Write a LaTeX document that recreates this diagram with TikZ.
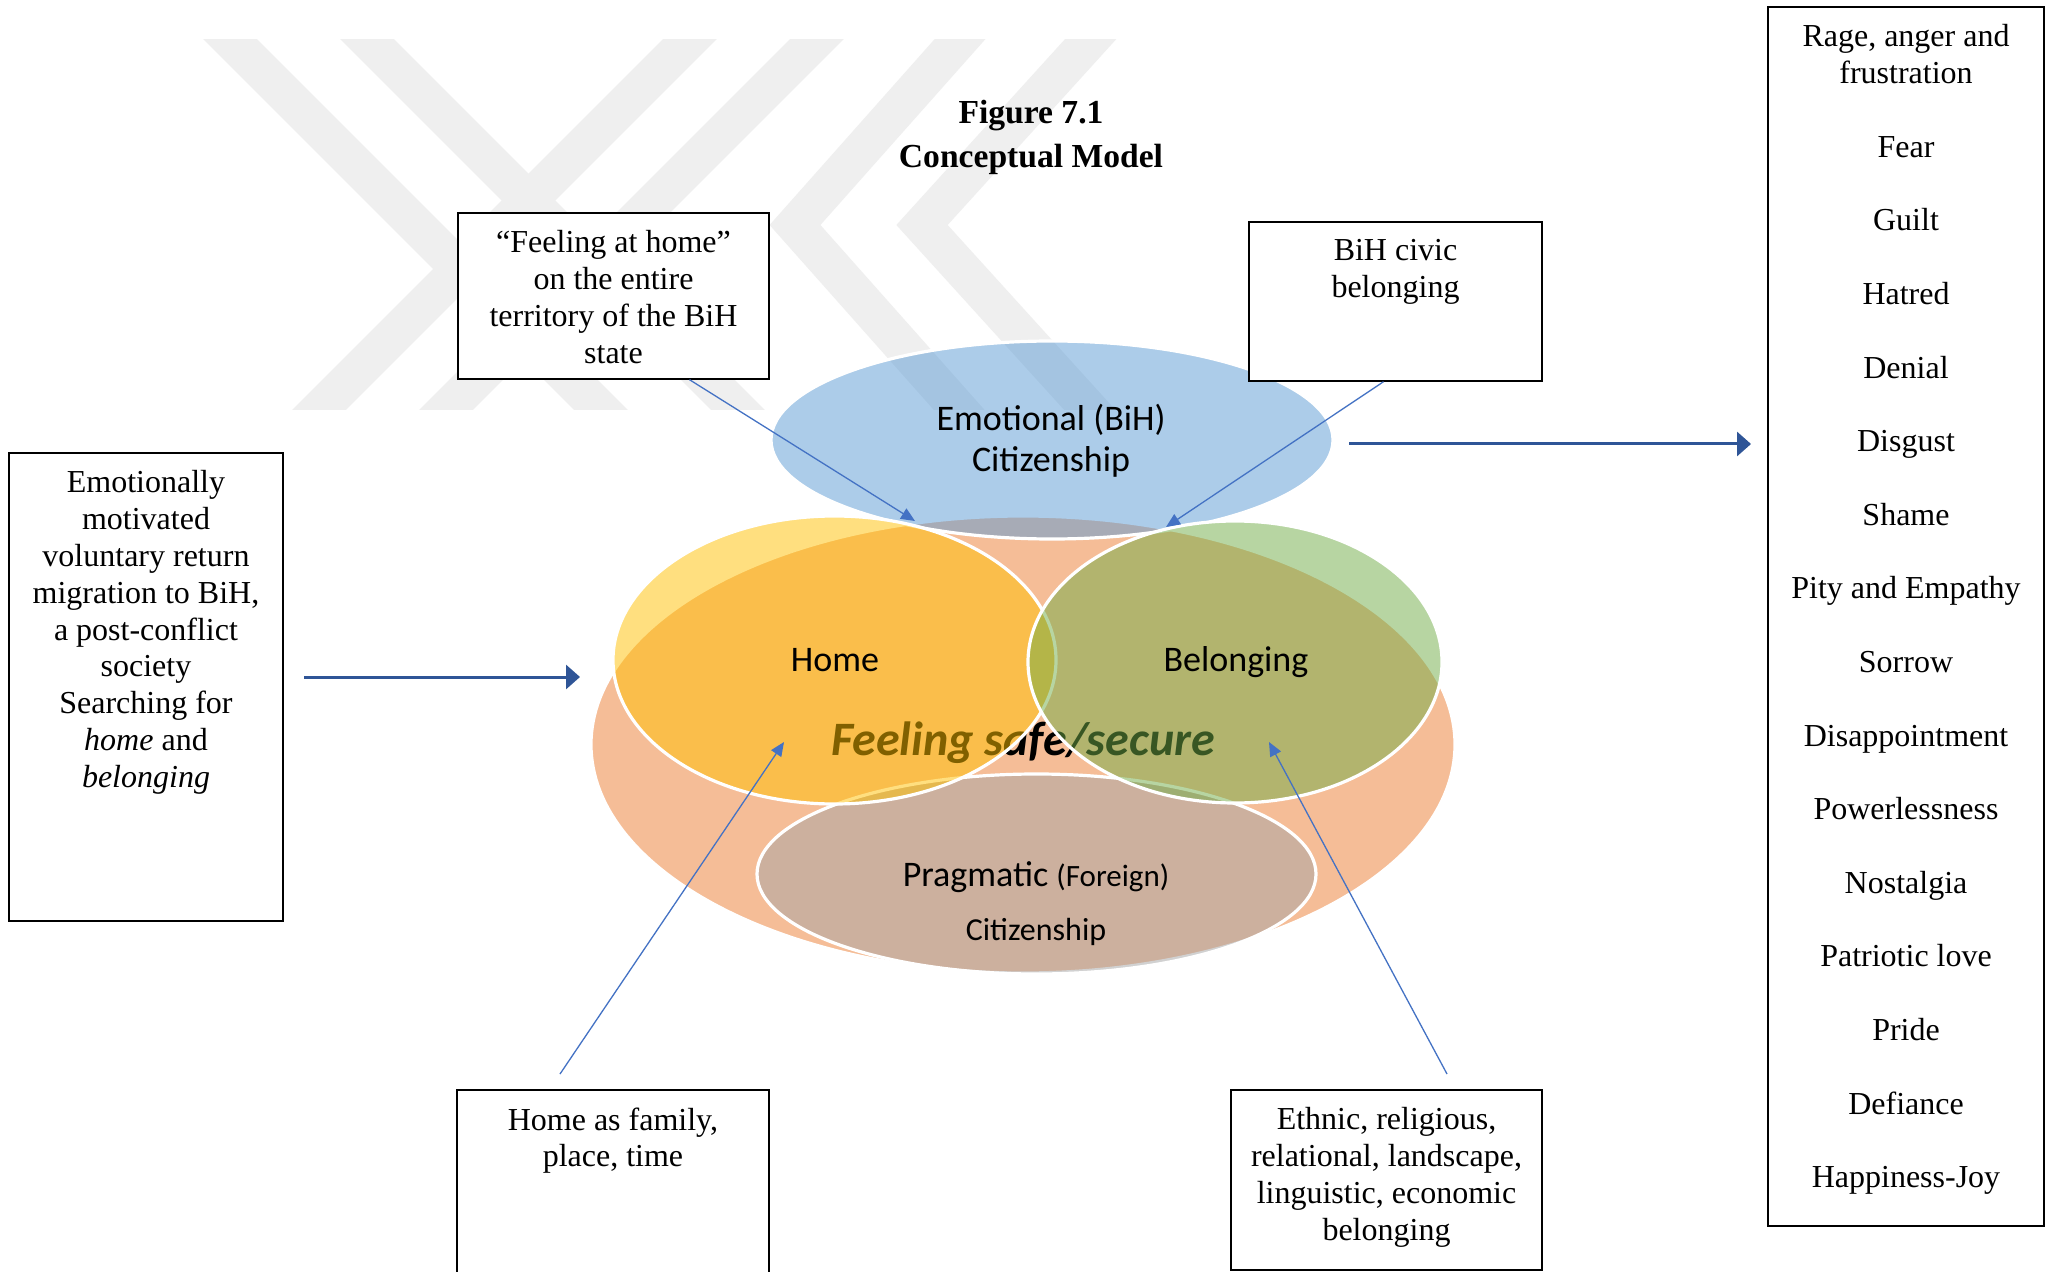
\documentclass[tikz,border=0pt]{standalone}
\usepackage{fontspec}
\setmainfont{Liberation Serif}
\newfontfamily\calibri{Carlito}
\usepackage{xcolor}
\definecolor{ColSalmon}{HTML}{ED7D31}
\definecolor{ColBlue}{HTML}{5B9BD5}
\definecolor{ColHome}{HTML}{FFC000}
\definecolor{ColBelong}{HTML}{70AD47}
\definecolor{ColPrag}{HTML}{A5A5A5}
\definecolor{ColArrow}{HTML}{4472C4}
\definecolor{ColThick}{HTML}{2F5597}
\definecolor{ColMark}{HTML}{EFEFEF}
\usepackage{tikz}
\usetikzlibrary{arrows.meta}
\tikzstyle{Venn}=[draw=white,line width=1.6pt,fill opacity=0.5]
\tikzstyle{Box}=[draw=black,line width=0.7pt,fill=white,inner sep=0pt]
\tikzstyle{Edge}=[draw=ColArrow,line width=0.65pt,
-{Triangle[length=7pt,width=6pt]}]
\tikzstyle{BigEdge}=[draw=ColThick,line width=1.5pt,
-{Triangle[length=7pt,width=12pt]}]
\tikzstyle{Mark}=[draw=ColMark,line width=19pt,line join=miter]
\tikzstyle{Lbl}=[font=\calibri\fontsize{18}{20.5}\selectfont,
align=center,inner sep=0pt]
\newcommand{\BoxText}[3]{\parbox[c][#2][t]{#1}{\centering
    \fontsize{16}{18.4}\selectfont\vspace*{8.8pt}#3}}

\begin{document}
\begin{tikzpicture}[x=0.5pt,y=-0.5pt]
    \fill[white](0,0)rectangle(2048,1272);
    \useasboundingbox(0,0)rectangle(2048,1272);
    \begin{scope}
        \clip(0,40)rectangle(2048,410);
        \draw[Mark](211,20)--(621,430);
        \draw[Mark](348,20)--(758,430);
        \draw[Mark](709,20)--(299,430);
        \draw[Mark](836,20)--(426,430);
        \draw[Mark](977,20)--(795,225)--(977,430);
        \draw[Mark](1108,20)--(922,225)--(1108,430);
    \end{scope}
    \draw[Venn,fill=ColSalmon](1023,744.5)ellipse[x radius=432,y radius=228.5];
    \node[Lbl,font=\calibri\bfseries\itshape\fontsize{24}{27}\selectfont]
        (safe)at(1023,743){Feeling safe/secure};
    \draw[Venn,fill=ColBlue](1052,440)ellipse[x radius=281,y radius=99];
    \draw[Venn,fill=ColPrag](1036.5,874)ellipse[x radius=279.5,y radius=100];
    \draw[Venn,fill=ColHome](834.5,660)ellipse[x radius=221.5,y radius=144];
    \draw[Venn,fill=ColBelong](1235,662)ellipse[x radius=207,y radius=141];
    \node[Lbl](emoL)at(1051,441){Emotional (BiH)\\Citizenship};
    \node[Lbl](homeL)at(835,660){Home};
    \node[Lbl](belL)at(1236,662){Belonging};
    \node[Lbl](pragL)at(1036,904){Pragmatic
        {\fontsize{15.5}{18}\selectfont(Foreign)}\\[6.5pt]
        {\fontsize{16}{18}\selectfont Citizenship}};
    \node[align=center,inner sep=0pt,font=\bfseries\fontsize{16.8}{22}\selectfont]
        (title)at(1031,137){Figure 7.1\\Conceptual Model};
    \node[Box](lbox)at(146,687){\BoxText{137pt}{234pt}{Emotionally\\
        motivated\\voluntary return\\migration to BiH,\\a post-conflict\\
        society\\Searching for\\\textit{home} and\\\textit{belonging}}};
    \node[Box](fah)at(613.5,296){\BoxText{155.5pt}{83pt}{“Feeling at home”\\
        on the entire\\territory of the BiH\\state}};
    \node[Box](civic)at(1395.5,301.5){\BoxText{146.5pt}{79.5pt}{BiH civic\\
        belonging}};
    \node[Box](family)at(613,1190){\BoxText{156pt}{100pt}{Home as family,\\
        place, time}};
    \node[Box](ethnic)at(1386.5,1180){\BoxText{155.5pt}{90pt}{Ethnic, religious,\\
        relational, landscape,\\linguistic, economic\\belonging}};
    \node[Box](emo)at(1906,616.5){\BoxText{138pt}{609.5pt}{Rage, anger and\\
        frustration\\[18.4pt]Fear\\[18.4pt]Guilt\\[18.4pt]Hatred\\[18.4pt]
        Denial\\[18.4pt]Disgust\\[18.4pt]Shame\\[18.4pt]Pity and Empathy\\[18.4pt]
        Sorrow\\[18.4pt]Disappointment\\[18.4pt]Powerlessness\\[18.4pt]
        Nostalgia\\[18.4pt]Patriotic love\\[18.4pt]Pride\\[18.4pt]
        Defiance\\[18.4pt]Happiness-Joy}};
    \coordinate(a1)at(915,521);
    \coordinate(a2)at(1166,527);
    \coordinate(f1)at(560,1074);
    \coordinate(a3)at(784,742);
    \coordinate(e1)at(1447,1074);
    \coordinate(a4)at(1269,742);
    \coordinate(l1)at(304,677);
    \coordinate(l2)at(580,677);
    \coordinate(r1)at(1349,444);
    \coordinate(r2)at(1751,444);
    \draw[Edge]([xshift=38pt]fah.south)--(a1);
    \draw[Edge]([xshift=-6pt]civic.south)--(a2);
    \draw[Edge](f1)--(a3);
    \draw[Edge](e1)--(a4);
    \draw[BigEdge](l1)--(l2);
    \draw[BigEdge](r1)--(r2);
\end{tikzpicture}
\end{document}
